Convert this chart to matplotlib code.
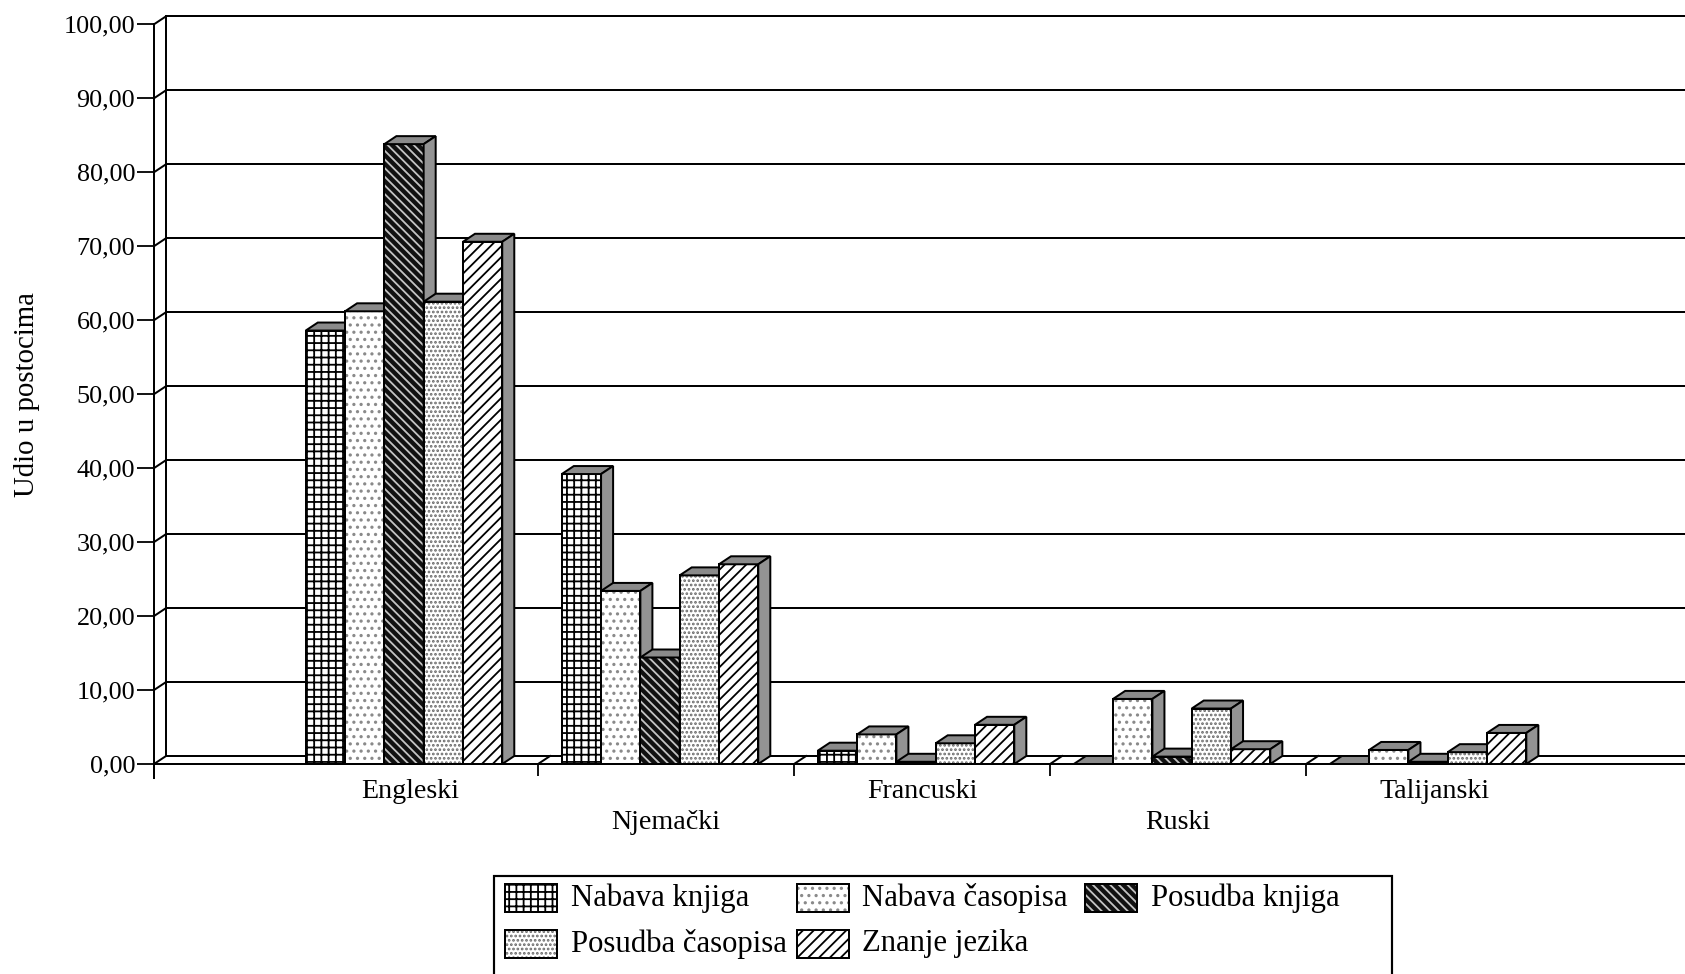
import matplotlib.pyplot as plt
import numpy as np
from matplotlib.patches import Rectangle, Polygon
from matplotlib.ticker import FuncFormatter

plt.rcParams['font.family'] = ['Liberation Serif', 'DejaVu Serif']
plt.rcParams['hatch.linewidth'] = 1.0

DPI = 130
W, H = 1685, 974

languages = ['Engleski', 'Njemački', 'Francuski', 'Ruski', 'Talijanski']
series = ['Nabava knjiga', 'Nabava časopisa', 'Posudba knjiga',
          'Posudba časopisa', 'Znanje jezika']

nabava_knjiga = [58.6, 39.2, 1.8, 0.0, 0.0]
nabava_casopisa = [61.2, 23.4, 4.0, 8.8, 1.9]
posudba_knjiga = [83.8, 14.4, 0.3, 1.0, 0.3]
posudba_casopisa = [62.5, 25.5, 2.8, 7.5, 1.6]
znanje_jezika = [70.6, 27.0, 5.3, 2.0, 4.2]

y_ticks = np.arange(0, 101, 10)

# izgled prednje strane stupca: boja, boja šrafure, šrafura
styles = [
    ('white', 'black', '+++'),
    ('white', '#8a8a8a', '...'),
    ('#111111', '#c4c4c4', '\\\\\\\\\\'),
    ('white', '#6a6a6a', '.....'),
    ('white', 'black', '////'),
]
TOP_COLOR = '#8a8a8a'
SIDE_COLOR = '#939393'

BAR_W = 0.1535   # širina stupca (udio kategorije)
DX, DY = 0.047, 1.08   # pomak "dubine" za 3D izgled
LW = 1.1

fig = plt.figure(figsize=(W / DPI, H / DPI), dpi=DPI)

# pomoćne osi u pikselima za legendu
lax = fig.add_axes([0, 0, 1, 1], zorder=0)
lax.set_xlim(0, W)
lax.set_ylim(H, 0)
lax.axis('off')

x_left, x_right = -1.0, 4.98
ax = fig.add_axes([154 / W, (H - 764) / H, (W - 154) / W, (764 - 9.5) / H], zorder=1)
ax.patch.set_visible(False)
ax.set_xlim(x_left, x_right)
ax.set_ylim(0, 102)
for s in ax.spines.values():
    s.set_visible(False)

# stražnji zid s mrežom i spojnicama prema osi
for v in y_ticks:
    ax.plot([x_left + DX, x_right], [v + DY, v + DY], color='black', lw=LW, zorder=1)
    ax.plot([x_left, x_left + DX], [v, v + DY], color='black', lw=LW, zorder=1, clip_on=False)
ax.plot([x_left, x_left], [-1.9, 100], color='black', lw=LW, clip_on=False, zorder=1)
ax.plot([x_left + DX, x_left + DX], [DY, 100 + DY], color='black', lw=LW, clip_on=False, zorder=1)

# pod
boundaries = np.arange(0.5, len(languages) - 1, 1.0)
for b in boundaries:
    ax.plot([b, b + DX], [0, DY], color='black', lw=LW, zorder=1)

data = [nabava_knjiga, nabava_casopisa, posudba_knjiga, posudba_casopisa, znanje_jezika]
z = 2
for i in range(len(languages)):
    start = i - 2.5 * BAR_W - DX / 2
    for j, values in enumerate(data):
        v = values[i]
        x0 = start + j * BAR_W
        fc, hc, hatch = styles[j]
        ax.add_patch(Rectangle((x0, 0), BAR_W, v, facecolor=fc, edgecolor=hc,
                               hatch=hatch, lw=0, zorder=z))
        ax.add_patch(Rectangle((x0, 0), BAR_W, v, fill=False, edgecolor='black',
                               lw=LW, zorder=z))
        top = [(x0, v), (x0 + DX, v + DY), (x0 + BAR_W + DX, v + DY), (x0 + BAR_W, v)]
        side = [(x0 + BAR_W, 0), (x0 + BAR_W + DX, DY),
                (x0 + BAR_W + DX, v + DY), (x0 + BAR_W, v)]
        ax.add_patch(Polygon(top, closed=True, facecolor=TOP_COLOR, edgecolor='black',
                             lw=LW, zorder=z))
        ax.add_patch(Polygon(side, closed=True, facecolor=SIDE_COLOR, edgecolor='black',
                             lw=LW, zorder=z))
        z += 1

ax.plot([x_left, x_right], [0, 0], color='black', lw=LW, zorder=z, clip_on=False)

# osi
ax.set_yticks(y_ticks)
ax.yaxis.set_major_formatter(FuncFormatter(lambda v, p: f'{v:.2f}'.replace('.', ',')))
ax.tick_params(axis='y', length=17 * 72 / DPI, width=1.0, pad=1, labelsize=14.5)
ax.set_xticks(boundaries)
ax.set_xticklabels([])
ax.tick_params(axis='x', length=12 * 72 / DPI, width=1.0)

for i, lang in enumerate(languages):
    drop = 15 if i % 2 == 0 else 46
    ax.annotate(lang, xy=(i, 0), xycoords=('data', 'axes fraction'),
                xytext=(0, -drop * 72 / DPI), textcoords='offset points',
                ha='center', va='top', fontsize=15.5)

fig.text(27 / W, 1 - 395 / H, 'Udio u postocima', rotation=90,
         ha='center', va='center', fontsize=16)

# legenda
lax.add_patch(Rectangle((494, 876), 898, 200, facecolor='white', edgecolor='black',
                        lw=1.2, clip_on=False))
swatch_x = [505, 797, 1085]
text_x = [571, 862, 1151]
row_y = [898, 944]
for k, name in enumerate(series):
    row, col = divmod(k, 3)
    fc, hc, hatch = styles[k]
    yc = row_y[row]
    lax.add_patch(Rectangle((swatch_x[col], yc - 14), 52, 28, facecolor=fc,
                            edgecolor=hc, hatch=hatch, lw=0))
    lax.add_patch(Rectangle((swatch_x[col], yc - 14), 52, 28, fill=False,
                            edgecolor='black', lw=LW))
    lax.text(text_x[col], yc, name, ha='left', va='center', fontsize=17)

fig.savefig('out.png', dpi=DPI)
